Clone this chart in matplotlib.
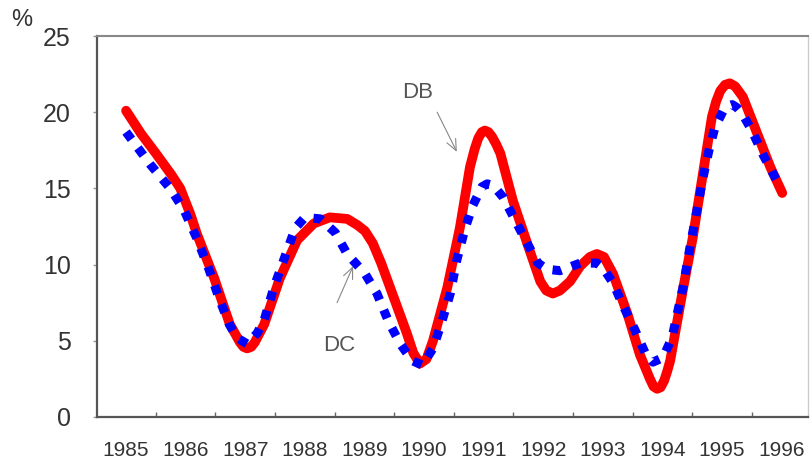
import matplotlib.pyplot as plt
from matplotlib.ticker import FixedLocator

years = list(range(1985, 1997))

# DB (red, solid): fractional year, %
db_x = [1985.00, 1985.25, 1985.50, 1985.76, 1985.91, 1986.00, 1986.08, 1986.19,
        1986.48, 1986.74, 1986.91, 1986.97, 1987.03, 1987.10, 1987.16, 1987.32,
        1987.58, 1987.87, 1988.15, 1988.42, 1988.71, 1988.88, 1989.01, 1989.14,
        1989.28, 1989.43, 1989.71, 1989.82, 1989.93, 1990.04, 1990.15, 1990.39,
        1990.60, 1990.77, 1990.85, 1990.91, 1990.97, 1991.02, 1991.08, 1991.14,
        1991.21, 1991.28, 1991.49, 1991.73, 1991.95, 1992.05, 1992.16, 1992.28,
        1992.45, 1992.62, 1992.78, 1992.90, 1993.02, 1993.17, 1993.41, 1993.62,
        1993.79, 1993.85, 1993.91, 1993.97, 1994.03, 1994.08, 1994.13, 1994.35,
        1994.51, 1994.68, 1994.83, 1994.90, 1994.97, 1995.05, 1995.13, 1995.22,
        1995.35, 1995.59, 1995.81, 1996.01]
db_y = [20.1, 18.6, 17.3, 15.9, 15.0, 14.1, 13.3, 12.0,
        9.1, 6.1, 4.9, 4.6, 4.5, 4.6, 4.9, 6.1,
        9.1, 11.6, 12.7, 13.1, 13.0, 12.6, 12.2, 11.4,
        10.1, 8.5, 5.5, 4.2, 3.5, 3.8, 5.0, 8.5,
        12.4, 16.4, 17.6, 18.3, 18.7, 18.8, 18.7, 18.4,
        17.9, 17.3, 14.2, 11.4, 8.9, 8.3, 8.1, 8.3,
        8.9, 9.9, 10.5, 10.7, 10.5, 9.4, 6.8, 4.1,
        2.5, 2.0, 1.85, 1.95, 2.4, 3.0, 3.7, 8.5,
        11.8, 16.0, 19.7, 20.7, 21.4, 21.8, 21.9, 21.7,
        21.0, 18.6, 16.4, 14.7]

# DC (blue, dotted)
dc_x = [1985.00, 1985.40, 1985.74, 1985.97, 1986.19, 1986.39, 1986.56, 1986.73,
        1986.86, 1987.03, 1987.20, 1987.32, 1987.48, 1987.70, 1987.84, 1988.00,
        1988.26, 1988.51, 1988.71, 1989.01, 1989.21, 1989.40, 1989.60, 1989.80,
        1989.97, 1990.15, 1990.27, 1990.44, 1990.55, 1990.69, 1990.82, 1990.97,
        1991.06, 1991.16, 1991.33, 1991.53, 1991.73, 1991.91, 1992.06, 1992.28,
        1992.62, 1992.90, 1993.00, 1993.17, 1993.34, 1993.54, 1993.71, 1993.84,
        1994.01, 1994.16, 1994.35, 1994.46, 1994.58, 1994.68, 1994.78, 1994.88,
        1995.02, 1995.10, 1995.17, 1995.25, 1995.34, 1995.50, 1995.69, 1995.92,
        1995.99]
dc_y = [18.7, 16.6, 15.0, 13.6, 11.7, 9.7, 7.8, 6.1,
        5.2, 4.8, 5.5, 6.4, 8.5, 10.9, 12.4, 13.1,
        13.0, 12.1, 10.7, 9.4, 8.1, 6.3, 4.8, 3.7,
        3.4, 4.5, 5.9, 8.1, 10.3, 12.4, 13.9, 15.1,
        15.3, 15.2, 14.4, 12.9, 11.4, 10.1, 9.7, 9.6,
        10.1, 10.1, 9.8, 8.8, 7.3, 5.7, 4.2, 3.6,
        3.9, 5.2, 8.6, 11.1, 13.6, 15.7, 17.5, 19.0,
        20.1, 20.4, 20.5, 20.3, 19.9, 18.8, 17.2, 15.5,
        15.0]

fig = plt.figure(figsize=(8.1, 4.68), dpi=100)
ax = fig.add_axes([0.1198, 0.109, 0.8778, 0.814])

ax.plot(db_x, db_y, color="#ff0000", lw=7, solid_capstyle="round",
        solid_joinstyle="round", zorder=2)
ax.plot(dc_x, dc_y, color="#0000ff", lw=6.5, linestyle=(0, (1.0, 1.2)),
        dash_capstyle="butt", zorder=3)

ax.set_xlim(1984.513, 1996.443)
ax.set_ylim(0, 25)

font = "Liberation Sans"
ax.set_yticks([0, 5, 10, 15, 20, 25])
ax.set_yticklabels(["0", "5", "10", "15", "20", "25"], fontsize=18,
                   family=font, color="#333333")
ax.tick_params(axis="y", direction="out", length=3, width=1, color="#999999",
               pad=16)

ax.set_xticks(years)
ax.set_xticklabels([str(y) for y in years], fontsize=15, family=font,
                   color="#333333")
ax.xaxis.set_minor_locator(FixedLocator([y + 0.5 for y in years[:-1]]))
ax.tick_params(axis="x", which="major", length=0, pad=17)
ax.tick_params(axis="x", which="minor", direction="in", length=3.5, width=1,
               color="#666666")

for side in ["left", "bottom"]:
    ax.spines[side].set_color("#555555")
    ax.spines[side].set_linewidth(1.6)
ax.spines["top"].set_color("#888888")
ax.spines["top"].set_linewidth(1.5)
ax.spines["right"].set_color("#cccccc")
ax.spines["right"].set_linewidth(1)

# labels with arrows
ax.text(1989.90, 21.3, "DB", ha="center", va="center", fontsize=16,
        family=font, color="#555555")
ax.annotate("", xy=(1990.55, 17.4), xytext=(1990.22, 20.0),
            arrowprops=dict(arrowstyle="->,head_length=0.8,head_width=0.35",
                            color="#888888", lw=0.8, shrinkA=0, shrinkB=0))
ax.text(1988.57, 4.7, "DC", ha="center", va="center", fontsize=16,
        family=font, color="#555555")
ax.annotate("", xy=(1988.81, 9.9), xytext=(1988.54, 7.5),
            arrowprops=dict(arrowstyle="->,head_length=0.8,head_width=0.35",
                            color="#888888", lw=0.8, shrinkA=0, shrinkB=0))

fig.text(0.027, 0.957, "%", ha="center", va="center", fontsize=17,
         family=font, color="#333333")

fig.savefig("out.png", dpi=100)
